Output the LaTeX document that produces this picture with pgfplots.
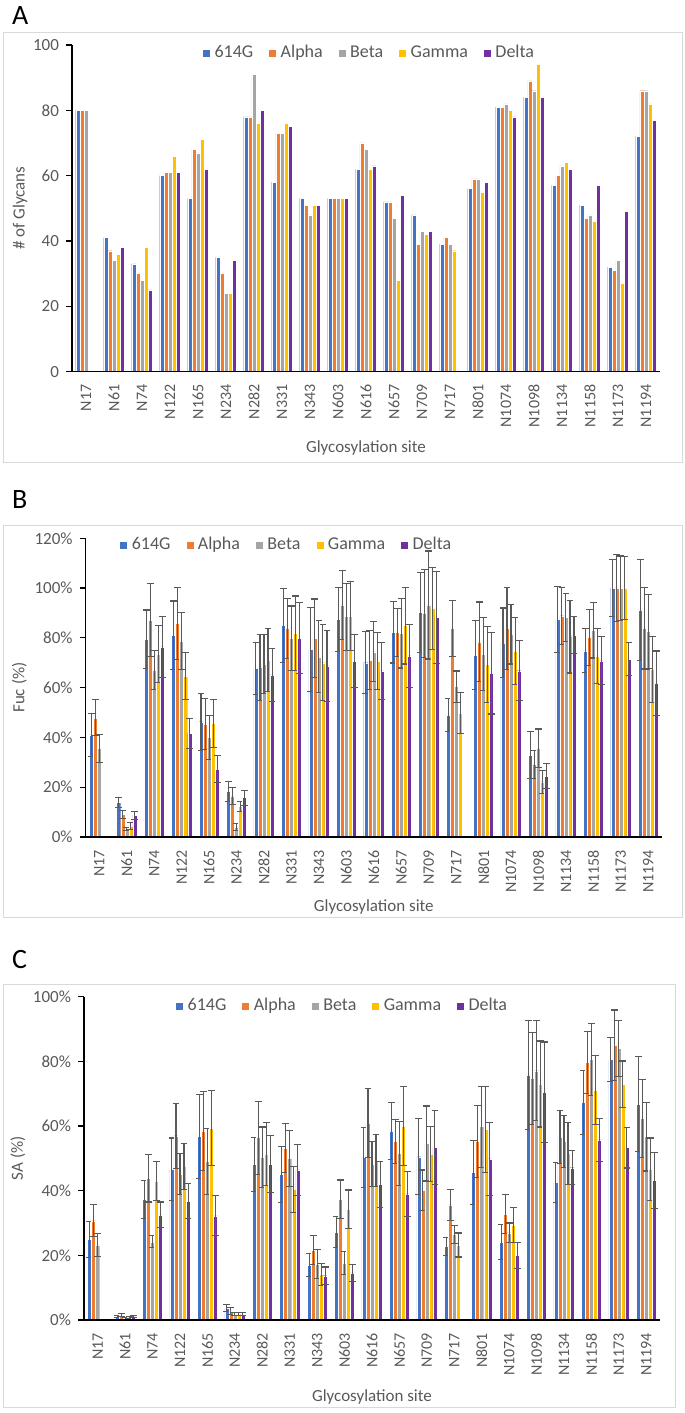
\documentclass[border=0pt]{standalone}
\usepackage{pgfplots}
\pgfplotsset{compat=1.18}
\usepackage{fontspec}
\setmainfont{Carlito}

\definecolor{c614}{HTML}{4472C4}
\definecolor{calpha}{HTML}{ED7D31}
\definecolor{cbeta}{HTML}{A5A5A5}
\definecolor{cgamma}{HTML}{FFC000}
\definecolor{cdelta}{HTML}{7030A0}
\definecolor{txtgray}{HTML}{595959}
\definecolor{ebgray}{HTML}{595959}
\definecolor{boxgray}{HTML}{D9D9D9}

\pgfplotsset{
  panel/.style={
    scale only axis,
    anchor=south west,
    axis on top,
    ybar=0pt,
    bar width=0.147,
    xmin=-0.5, xmax=20.5,
    ymin=0,
    xtick={0,...,20},
    xticklabels={N17,N61,N74,N122,N165,N234,N282,N331,N343,N603,N616,N657,N709,N717,N801,N1074,N1098,N1134,N1158,N1173,N1194},
    xticklabel style={rotate=90, anchor=east, font=\fontsize{8}{9}\selectfont, text=txtgray},
    yticklabel style={font=\fontsize{8.5}{10}\selectfont, text=txtgray},
    axis lines*=left,
    axis line style={black, line width=0.6pt},
    xtick style={draw=none},
    ytick style={black, line width=0.6pt},
    tick align=outside,
    major tick length=3pt,
    /pgf/number format/assume math mode=true,
    label style={font=\fontsize{8.5}{10}\selectfont, text=txtgray},
    ylabel shift=-3pt,
    legend style={draw=none, fill=none, font=\fontsize{9}{10}\selectfont, text=txtgray,
      legend columns=-1, /tikz/every even column/.append style={column sep=5.5pt}},
    legend image code/.code={\fill[##1] (0pt,-2pt) rectangle (4pt,2pt);},
  },
  eb/.style={error bars/.cd, y dir=both, y explicit,
    error bar style={color=ebgray, line width=0.55pt},
    error mark options={rotate=90, mark size=1.7pt, color=ebgray, line width=0.55pt}},
}

\begin{document}
\begin{tikzpicture}[x=1pt,y=1pt]
\useasboundingbox (0,0) rectangle (342.5,706.5);

% panel frames and letters
\draw[boxgray, line width=0.5pt] (1.5,475) rectangle (341,690);
\draw[boxgray, line width=0.5pt] (1.5,247.5) rectangle (341,443.5);
\draw[boxgray, line width=0.5pt] (1.5,2.5) rectangle (337.5,214);
\node[anchor=west, font=\fontsize{14}{16}\selectfont] at (2.5,698.5) {A};
\node[anchor=west, font=\fontsize{14}{16}\selectfont] at (2.5,456.5) {B};
\node[anchor=west, font=\fontsize{14}{16}\selectfont] at (2.5,226.5) {C};

% A: number of glycans
\begin{axis}[panel, at={(36pt,520.7pt)}, width=294pt, height=163.3pt,
  ymax=100, ytick={0,20,...,100},
  ylabel={\# of Glycans}, xlabel={Glycosylation site}, ylabel shift=-4pt,
  legend style={at={(0.507,0.976)}, anchor=center}]
\addplot[fill=c614, draw=white, line width=0.2pt] coordinates {
 (0,80) (1,41) (2,33) (3,60) (4,53) (5,35) (6,78) (7,58) (8,53) (9,53) (10,62)
 (11,52) (12,48) (13,39) (14,56) (15,81) (16,84) (17,57) (18,51) (19,32) (20,72)};
\addplot[fill=calpha, draw=white, line width=0.2pt] coordinates {
 (0,80) (1,37) (2,30) (3,61) (4,68) (5,30) (6,78) (7,73) (8,51) (9,53) (10,70)
 (11,52) (12,39) (13,41) (14,59) (15,81) (16,89) (17,60) (18,47) (19,31) (20,86)};
\addplot[fill=cbeta, draw=white, line width=0.2pt] coordinates {
 (0,80) (1,34) (2,28) (3,61) (4,67) (5,24) (6,91) (7,73) (8,48) (9,53) (10,68)
 (11,47) (12,43) (13,39) (14,59) (15,82) (16,86) (17,63) (18,48) (19,34) (20,86)};
\addplot[fill=cgamma, draw=white, line width=0.2pt] coordinates {
 (1,36) (2,38) (3,66) (4,71) (5,24) (6,76) (7,76) (8,51) (9,53) (10,62)
 (11,28) (12,42) (13,37) (14,55) (15,80) (16,94) (17,64) (18,46) (19,27) (20,82)};
\addplot[fill=cdelta, draw=white, line width=0.2pt] coordinates {
 (1,38) (2,25) (3,61) (4,62) (5,34) (6,80) (7,75) (8,51) (9,53) (10,63)
 (11,54) (12,43) (14,58) (15,78) (16,84) (17,62) (18,57) (19,49) (20,77)};
\legend{614G,Alpha,Beta,Gamma,Delta}
\end{axis}

% B: fucosylation
\begin{axis}[panel, at={(42.8pt,288pt)}, width=288.2pt, height=149.35pt,
  ymax=120, ytick={0,20,...,120},
  yticklabel={\pgfmathprintnumber{\tick}\%},
  ylabel={Fuc (\%)}, xlabel={Glycosylation site},
  xlabel style={yshift=3.5pt},
  legend style={at={(0.35,0.978)}, anchor=center}]
\addplot[fill=c614, draw=white, line width=0.2pt, eb] coordinates {
 (0,41) +- (0,8.5) (1,14) +- (0,2) (2,79.5) +- (0,11.7) (3,81) +- (0,13.8)
 (4,46.3) +- (0,11.5) (5,18.2) +- (0,4) (6,67.7) +- (0,10.6) (7,84.9) +- (0,14.8)
 (8,75.4) +- (0,16.9) (9,87.4) +- (0,13) (10,70) +- (0,12.5) (11,82.2) +- (0,12.3)
 (12,90.2) +- (0,16) (13,49) +- (0,6.7) (14,73.1) +- (0,14) (15,78) +- (0,14)
 (16,32.9) +- (0,9.5) (17,87.4) +- (0,13.2) (18,74.8) +- (0,8.8) (19,100) +- (0,11.5)
 (20,91.2) +- (0,20.4)};
\addplot[fill=calpha, draw=white, line width=0.2pt, eb] coordinates {
 (0,47.9) +- (0,7.3) (1,9.1) +- (0,1.5) (2,87.1) +- (0,14.7) (3,85.8) +- (0,14.5)
 (4,45.4) +- (0,10.1) (5,16.5) +- (0,3.5) (6,68.1) +- (0,13.1) (7,83.8) +- (0,12)
 (8,79.8) +- (0,15.8) (9,93.2) +- (0,13.9) (10,71.1) +- (0,12) (11,82.1) +- (0,9.6)
 (12,89.8) +- (0,17.8) (13,83.8) +- (0,11.3) (14,78.4) +- (0,16) (15,83.8) +- (0,16.4)
 (16,29.2) +- (0,5.6) (17,88.9) +- (0,11.5) (18,80.2) +- (0,11.2) (19,100.1) +- (0,13.5)
 (20,83.8) +- (0,16.3)};
\addplot[fill=cbeta, draw=white, line width=0.2pt, eb] coordinates {
 (0,35.6) +- (0,5.7) (1,3.2) +- (0,0.7) (2,67) +- (0,7.8) (3,78.8) +- (0,11.5)
 (4,40) +- (0,8.7) (5,4.1) +- (0,1.5) (6,69.5) +- (0,11.8) (7,79.8) +- (0,13)
 (8,72.4) +- (0,14.4) (9,88.5) +- (0,13.5) (10,74.4) +- (0,12) (11,81.8) +- (0,13.9)
 (12,93.2) +- (0,21.7) (13,60.4) +- (0,6.3) (14,73.4) +- (0,14.7) (15,81.4) +- (0,11.9)
 (16,35.6) +- (0,7.8) (17,88.2) +- (0,9.7) (18,83.1) +- (0,11.2) (19,100) +- (0,12.9)
 (20,82.5) +- (0,15)};
\addplot[fill=cgamma, draw=white, line width=0.2pt, eb] coordinates {
 (1,4.4) +- (0,1.5) (2,73.5) +- (0,11.6) (3,64.7) +- (0,9.3)
 (4,45.6) +- (0,9.7) (5,12.2) +- (0,2) (6,71.1) +- (0,12.7) (7,81.8) +- (0,15)
 (8,70) +- (0,15.3) (9,88.8) +- (0,13.8) (10,70.7) +- (0,11.5) (11,84.9) +- (0,15.4)
 (12,91.8) +- (0,16.6) (13,49.7) +- (0,8.3) (14,69.3) +- (0,15.4) (15,74.7) +- (0,13.4)
 (16,22.2) +- (0,4.6) (17,80.5) +- (0,14.6) (18,72.8) +- (0,11.1) (19,100) +- (0,12.7)
 (20,67.3) +- (0,13.4)};
\addplot[fill=cdelta, draw=white, line width=0.2pt, eb] coordinates {
 (1,8.8) +- (0,1.6) (2,76.4) +- (0,12.2) (3,41.6) +- (0,6)
 (4,27.3) +- (0,5.4) (5,15.8) +- (0,3) (6,65.1) +- (0,10.8) (7,79.8) +- (0,14.3)
 (8,68.7) +- (0,14.4) (9,70.7) +- (0,10.8) (10,66.7) +- (0,11.3) (11,72.8) +- (0,12.7)
 (12,88.1) +- (0,18.5) (14,65.7) +- (0,16.3) (15,66.8) +- (0,12)
 (16,24.5) +- (0,5.2) (17,81.1) +- (0,7.4) (18,70.8) +- (0,9.6) (19,71.4) +- (0,6.6)
 (20,61.7) +- (0,13)};
\legend{614G,Alpha,Beta,Gamma,Delta}
\end{axis}

% C: sialylation
\begin{axis}[panel, at={(42pt,46.5pt)}, width=288pt, height=161.65pt,
  ymax=100, ytick={0,20,...,100},
  yticklabel={\pgfmathprintnumber{\tick}\%},
  ylabel={SA (\%)}, xlabel={Glycosylation site},
  legend style={at={(0.45,0.971)}, anchor=center}]
\addplot[fill=c614, draw=white, line width=0.2pt, eb] coordinates {
 (0,24.9) +- (0,5.6) (1,1.2) +- (0,0.3) (2,37.3) +- (0,5.8) (3,46.6) +- (0,9.7)
 (4,56.7) +- (0,13) (5,3.6) +- (0,1.1) (6,48.1) +- (0,8.3) (7,45) +- (0,8.7)
 (8,17) +- (0,3.5) (9,27.1) +- (0,4.8) (10,50.3) +- (0,9.2) (11,58.5) +- (0,8.8)
 (12,50.5) +- (0,11.8) (13,22.7) +- (0,2.8) (14,45.6) +- (0,9.8) (15,24.2) +- (0,5.4)
 (16,75.8) +- (0,16.9) (17,42.5) +- (0,6.2) (18,67.3) +- (0,10) (19,80.6) +- (0,6.8)
 (20,66.7) +- (0,14.7)};
\addplot[fill=calpha, draw=white, line width=0.2pt, eb] coordinates {
 (0,30.7) +- (0,4.9) (1,1.5) +- (0,0.4) (2,43.8) +- (0,7.3) (3,57) +- (0,10.1)
 (4,58.5) +- (0,12.3) (5,2.8) +- (0,1) (6,56.4) +- (0,11.3) (7,53.1) +- (0,7.6)
 (8,21.6) +- (0,4.4) (9,37.3) +- (0,6) (10,61) +- (0,10.6) (11,55.2) +- (0,6.8)
 (12,40.2) +- (0,6.2) (13,35.6) +- (0,4.7) (14,55.2) +- (0,11.1) (15,32.7) +- (0,6)
 (16,74.7) +- (0,14.2) (17,56.5) +- (0,8.2) (18,79.6) +- (0,9.5) (19,85) +- (0,10.9)
 (20,62.4) +- (0,12.1)};
\addplot[fill=cbeta, draw=white, line width=0.2pt, eb] coordinates {
 (0,23.2) +- (0,3.6) (1,0.5) +- (0,0.3) (2,24.2) +- (0,1.8) (3,45.2) +- (0,6.3)
 (4,49) +- (0,10.2) (5,1.9) +- (0,0.5) (6,50.3) +- (0,9.4) (7,50) +- (0,8.7)
 (8,17.3) +- (0,4.5) (9,17.7) +- (0,3.5) (10,48.2) +- (0,7) (11,51.5) +- (0,10)
 (12,54.6) +- (0,11.6) (13,26.5) +- (0,2.7) (14,59.8) +- (0,12.5) (15,27) +- (0,3)
 (16,77.1) +- (0,15.4) (17,55.2) +- (0,8) (18,80.6) +- (0,11.1) (19,84) +- (0,8.7)
 (20,56.7) +- (0,10.6)};
\addplot[fill=cgamma, draw=white, line width=0.2pt, eb] coordinates {
 (1,0.8) +- (0,0.3) (2,43) +- (0,5.9) (3,47.6) +- (0,7.1)
 (4,59.3) +- (0,11.6) (5,1.8) +- (0,0.4) (6,51.3) +- (0,9.8) (7,40.4) +- (0,7.2)
 (8,14.2) +- (0,3.4) (9,34.2) +- (0,6) (10,49.3) +- (0,8.1) (11,60) +- (0,12.2)
 (12,51.3) +- (0,8.6) (13,23.2) +- (0,3.7) (14,59) +- (0,13.3) (15,29.4) +- (0,5.3)
 (16,73) +- (0,13.3) (17,51.5) +- (0,9.5) (18,71.1) +- (0,10.7) (19,72.9) +- (0,7.2)
 (20,46.7) +- (0,9.6)};
\addplot[fill=cdelta, draw=white, line width=0.2pt, eb] coordinates {
 (1,1) +- (0,0.3) (2,32.5) +- (0,4) (3,36.8) +- (0,5.4)
 (4,32.2) +- (0,6.2) (5,1.8) +- (0,0.4) (6,48.2) +- (0,8.8) (7,46.4) +- (0,8)
 (8,13.7) +- (0,2.7) (9,14.6) +- (0,2.6) (10,42) +- (0,7.1) (11,39) +- (0,6.9)
 (12,53.4) +- (0,11.4) (14,49.8) +- (0,11.4) (15,19.9) +- (0,4)
 (16,70.4) +- (0,15.6) (17,47.1) +- (0,5.2) (18,55.7) +- (0,6.7) (19,53.3) +- (0,6.3)
 (20,43.1) +- (0,8.6)};
\legend{614G,Alpha,Beta,Gamma,Delta}
\end{axis}
\end{tikzpicture}
\end{document}
